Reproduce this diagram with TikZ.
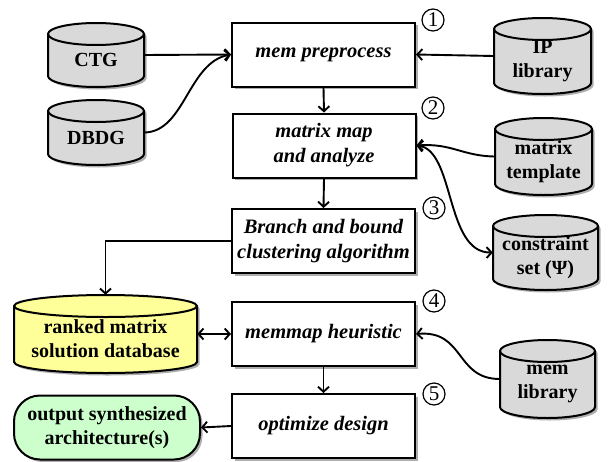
\documentclass[tikz,border=0pt]{standalone}
\usepackage{fontspec}
\setmainfont{Liberation Serif}
\usetikzlibrary{arrows.meta,shadows}

\definecolor{dbgray}{HTML}{D9D9D9}
\definecolor{dbyellow}{HTML}{FFFF99}
\definecolor{outgreen}{HTML}{CCFFCC}
\definecolor{shadegray}{HTML}{8C8C8C}

\tikzset{
  stepbox/.style={draw, line width=2pt, fill=white, minimum width=183pt, minimum height=64pt,
    inner sep=2pt, align=center, font=\fontsize{20.5}{25}\selectfont\bfseries\itshape,
    drop shadow={shadow xshift=2.5pt, shadow yshift=-2.5pt, fill=shadegray, opacity=0.7}},
  stepnum/.style={draw, circle, line width=1.2pt, minimum size=22pt, inner sep=0pt,
    font=\fontsize{21}{21}\selectfont},
  cylline/.style={line width=2pt},
  cylbox/.style={rectangle, inner sep=0pt},
  cyltext/.style={align=center, inner sep=0pt, font=\fontsize{20}{24}\selectfont\bfseries},
  outbox/.style={draw, line width=2pt, fill=outgreen, rounded corners=26pt,
    minimum width=186pt, minimum height=64pt, inner sep=2pt, align=center,
    font=\fontsize{20}{24}\selectfont\bfseries,
    drop shadow={shadow xshift=2.5pt, shadow yshift=-2.5pt, fill=shadegray, opacity=0.7}},
  tip/.tip={Straight Barb[length=5pt,width=11pt]},
  conn/.style={line width=1.9pt, -tip},
  conn2/.style={line width=1.9pt, tip-tip},
}

% database cylinder: name, centre x, centre y, width, height, fill, text
\def\cylry{11}
\newcommand{\dbcyl}[7]{%
  \pgfmathsetmacro\cylL{#2-#4/2}%
  \pgfmathsetmacro\cylR{#2+#4/2}%
  \pgfmathsetmacro\cylT{#3-#5/2+\cylry}%
  \pgfmathsetmacro\cylB{#3+#5/2-\cylry}%
  \pgfmathsetmacro\cylrx{#4/2}%
  \fill[shadegray, opacity=0.7, shift={(2.5,2.5)}] (\cylL,\cylT) -- (\cylL,\cylB)
    arc[start angle=180, end angle=360, x radius=\cylrx pt, y radius=\cylry pt] -- (\cylR,\cylT)
    arc[start angle=0, end angle=180, x radius=\cylrx pt, y radius=\cylry pt] -- cycle;
  \draw[cylline, fill=#6] (\cylL,\cylT) -- (\cylL,\cylB)
    arc[start angle=180, end angle=360, x radius=\cylrx pt, y radius=\cylry pt] -- (\cylR,\cylT)
    arc[start angle=0, end angle=180, x radius=\cylrx pt, y radius=\cylry pt] -- cycle;
  \draw[cylline] (\cylL,\cylT)
    arc[start angle=180, end angle=360, x radius=\cylrx pt, y radius=\cylry pt];
  \node[cylbox, minimum width=#4pt, minimum height=#5pt] (#1) at (#2,#3) {};
  \node[cyltext] (#1-t) at (#2,#3+5) {#7};
}

\begin{document}
\begin{tikzpicture}[x=1pt, y=-1pt]
\useasboundingbox (0,0) rectangle (610,461);

% processing steps
\node[stepbox] (pre)  at (323.5,54.5) {mem preprocess};
\node[stepbox] (mat)  at (324,145.5)  {matrix map\\and analyze};
\node[stepbox] (bnb)  at (323.5,241)  {Branch and bound\\clustering algorithm};
\node[stepbox] (heur) at (323.5,334)  {memmap heuristic};
\node[stepbox] (opt)  at (323.5,426)  {optimize design};

% step numbers
\node[stepnum] (n1) at (433,20)  {1};
\node[stepnum] (n2) at (433,108) {2};
\node[stepnum] (n3) at (434,208) {3};
\node[stepnum] (n4) at (434,301) {4};
\node[stepnum] (n5) at (434,394) {5};

% data stores
\dbcyl{ctg}{96}{55}{96}{64}{dbgray}{CTG}
\dbcyl{dbdg}{96}{132.5}{96}{65}{dbgray}{DBDG}
\dbcyl{ip}{542.5}{56}{97}{76}{dbgray}{IP\\library}
\dbcyl{tpl}{543.5}{156.5}{97}{77}{dbgray}{matrix\\template}
\dbcyl{cons}{545.5}{252.5}{105}{75}{dbgray}{constraint\\set (Ψ)}
\dbcyl{meml}{547.5}{379}{95}{78}{dbgray}{mem\\library}
\dbcyl{rank}{105.5}{334}{183}{78}{dbyellow}{ranked matrix\\solution database}

% result
\node[outbox] (out) at (107,427.5) {output synthesized\\architecture(s)};

% connectors
\draw[conn] (ctg.east) -- (pre.west);
\draw[conn] (dbdg.east) .. controls (185,132) and (188,62) .. (pre.west);
\draw[conn] (ip.west) -- (pre.east);
\draw[conn] (pre.south) -- (mat.north);
\draw[conn] (tpl.west) .. controls (462,156) and (452,143) .. (mat.east);
\draw[conn2] (mat.east) .. controls (455,150) and (445,253) .. (cons.west);
\draw[conn] (mat.south) -- (bnb.north);
\draw[conn] (bnb.west) -| (rank.north);
\draw[conn2] (rank.east) -- (heur.west);
\draw[conn] (meml.west) .. controls (455,379) and (465,330) .. (heur.east);
\draw[conn] (heur.south) -- (opt.north);
\draw[conn] (opt.west) -- (out.east);
\end{tikzpicture}
\end{document}
